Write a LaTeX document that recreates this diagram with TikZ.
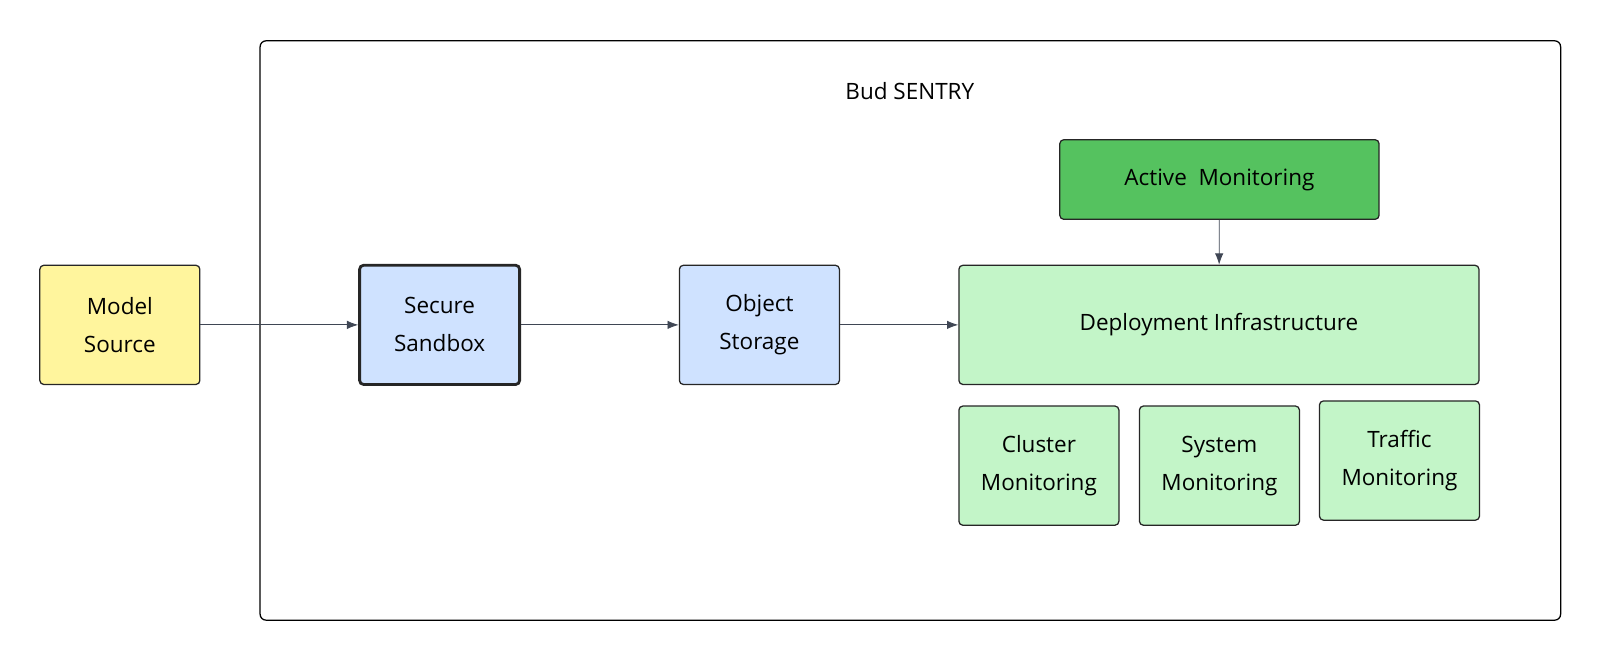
\documentclass[tikz,border=0pt]{standalone}
\usepackage{fontspec}
\setmainfont{Open Sans}
\usetikzlibrary{arrows.meta}
\definecolor{srcyellow}{HTML}{FFF59D}
\definecolor{boxblue}{HTML}{CFE2FF}
\definecolor{lightgreen}{HTML}{C3F5C8}
\definecolor{darkgreen}{HTML}{55C25F}
\definecolor{edgegray}{HTML}{3F4654}
\tikzset{
  box/.style={draw=black!85, rounded corners=0.1cm, line width=0.9pt, align=center,
    font=\fontsize{16}{20}\selectfont, inner sep=0pt},
  small/.style={box, minimum width=4.0cm, minimum height=2.98cm},
  flow/.style={-{Latex[length=8pt,width=6pt]}, draw=edgegray, line width=0.6pt}
}
\begin{document}
\begin{tikzpicture}[x=0.0255cm, y=-0.0255cm]
  \useasboundingbox (0,0) rectangle (1568.6,647);
  % outer frame
  \draw[rounded corners=0.15cm, line width=0.9pt] (255,40) rectangle (1530,608);
  \node[font=\fontsize{16}{20}\selectfont] (title) at (892,89) {Bud SENTRY};

  % main chain
  \node[small, fill=srcyellow] (source) at (117.5,318.5) {Model\\[7pt]Source};
  \node[small, fill=boxblue, line width=2pt] (sandbox) at (431,318.5) {Secure\\[7pt]Sandbox};
  \node[small, fill=boxblue] (storage) at (744.5,318.5) {Object\\[7pt]Storage};
  \node[box, fill=lightgreen, minimum width=13.0cm, minimum height=2.98cm] (deploy) at (1195,318.5) {Deployment Infrastructure};
  \node[box, fill=darkgreen, minimum width=7.98cm, minimum height=1.99cm] (active) at (1195.5,176) {Active\ \ Monitoring};

  % monitoring boxes
  \node[small, fill=lightgreen] (cluster) at (1018.5,456.5) {Cluster\\[7pt]Monitoring};
  \node[small, fill=lightgreen] (system) at (1195.5,456.5) {System\\[7pt]Monitoring};
  \node[small, fill=lightgreen] (traffic) at (1372,451.5) {Traffic\\[7pt]Monitoring};

  \draw[flow] (source) -- (sandbox);
  \draw[flow] (sandbox) -- (storage);
  \draw[flow] (storage) -- (deploy);
  \draw[flow] (active) -- (deploy);
\end{tikzpicture}
\end{document}
